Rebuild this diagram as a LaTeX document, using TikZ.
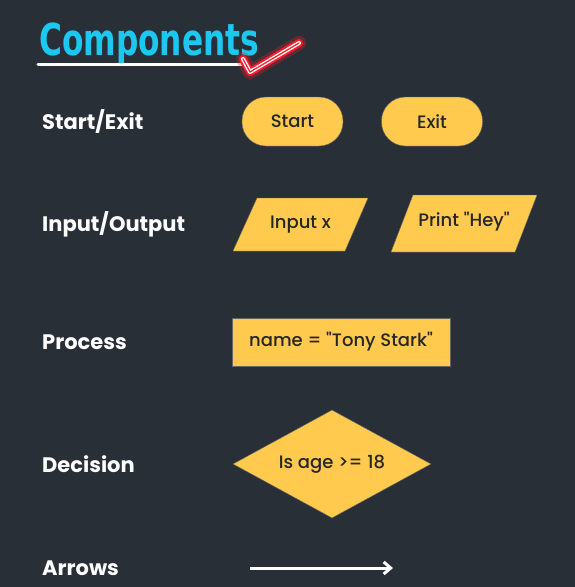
\documentclass[tikz,border=0pt]{standalone}
\usepackage{fontspec}
\setmainfont{Poppins}
\newfontfamily\titlefont{DejaVu Sans}
\newfontfamily\medfont{Poppins Medium}
\usetikzlibrary{shapes.geometric,arrows.meta}
\definecolor{bgc}{HTML}{292F37}
\definecolor{yel}{HTML}{FFCA4E}
\definecolor{cyanT}{HTML}{1CC8F0}
\definecolor{ink}{HTML}{262626}
\definecolor{neon}{HTML}{FF1A2A}
\newcommand{\dq}{\char34 }
\tikzset{
  lbl/.style={anchor=west, text=white, font=\fontsize{21}{25}\selectfont\bfseries, inner sep=0pt},
  shp/.style={fill=yel, draw=black!60, line width=0.4pt, text=ink, font=\medfont\fontsize{18}{22}\selectfont, inner sep=0pt},
  term/.style={shp, rounded corners=24pt, minimum width=101pt, minimum height=49pt},
  iotxt/.style={text=ink, font=\medfont\fontsize{18}{22}\selectfont, inner sep=0pt},
  iofill/.style={fill=yel, draw=black!60, line width=0.4pt},
}
\begin{document}
\begin{tikzpicture}[x=1pt,y=-1pt]
\useasboundingbox (0,0) rectangle (575,587);
\fill[bgc] (0,0) rectangle (575,587);
% title
\node[anchor=base west, inner sep=0pt, text=cyanT, xscale=0.71, font=\titlefont\fontsize{44}{50}\selectfont\bfseries] (title) at (39,55) {Components};
\coordinate (ul1) at (38,64);
\coordinate (ul2) at (246,64);
\draw[white, line width=3pt, line cap=round] (ul1) -- (ul2);
% neon check
\coordinate (c1) at (243,59);
\coordinate (c2) at (250,72);
\coordinate (c3) at (299,43);
\draw[neon, opacity=0.3, line width=14pt, line cap=round, line join=round] (c1) -- (c2) -- (c3);
\draw[neon, line width=8pt, line cap=round, line join=round] (c1) -- (c2) -- (c3);
\draw[white, line width=4pt, line cap=round, line join=round] (c1) -- (c2) -- (c3);
\draw[neon, line width=1.2pt, line cap=round, line join=round] (c1) -- (c2) -- (c3);
% labels
\node[lbl] (l1) at (42,121) {Start/Exit};
\node[lbl] (l2) at (42,224) {Input/Output};
\node[lbl] (l3) at (42,342) {Process};
\node[lbl] (l4) at (42,464) {Decision};
\node[lbl] (l5) at (42,568) {Arrows};
% terminals
\node[term] (start) at (292.5,121.5) {Start};
\node[term] (exit) at (432,121.5) {Exit};
% input / output parallelograms
\fill[iofill] (257,198) -- (368,198) -- (345,251) -- (233,251) -- cycle;
\node[iotxt] (inp) at (300.5,225) {Input x};
\fill[iofill] (413,195) -- (537,195) -- (515,252) -- (391,252) -- cycle;
\node[iotxt] (prt) at (464,222) {Print \dq Hey\dq};
% process
\node[shp, minimum width=218pt, minimum height=48pt] (proc) at (341,342) {name = \dq Tony Stark\dq};
% decision
\node[shp, diamond, aspect=1.83, minimum width=198pt, minimum height=108pt] (dec) at (332,464) {Is age >= 18};
% arrow
\coordinate (a1) at (250,568);
\coordinate (a2) at (393,568);
\draw[white, line width=3pt, -{Straight Barb[length=7pt,width=12pt]}] (a1) -- (a2);
\end{tikzpicture}
\end{document}
